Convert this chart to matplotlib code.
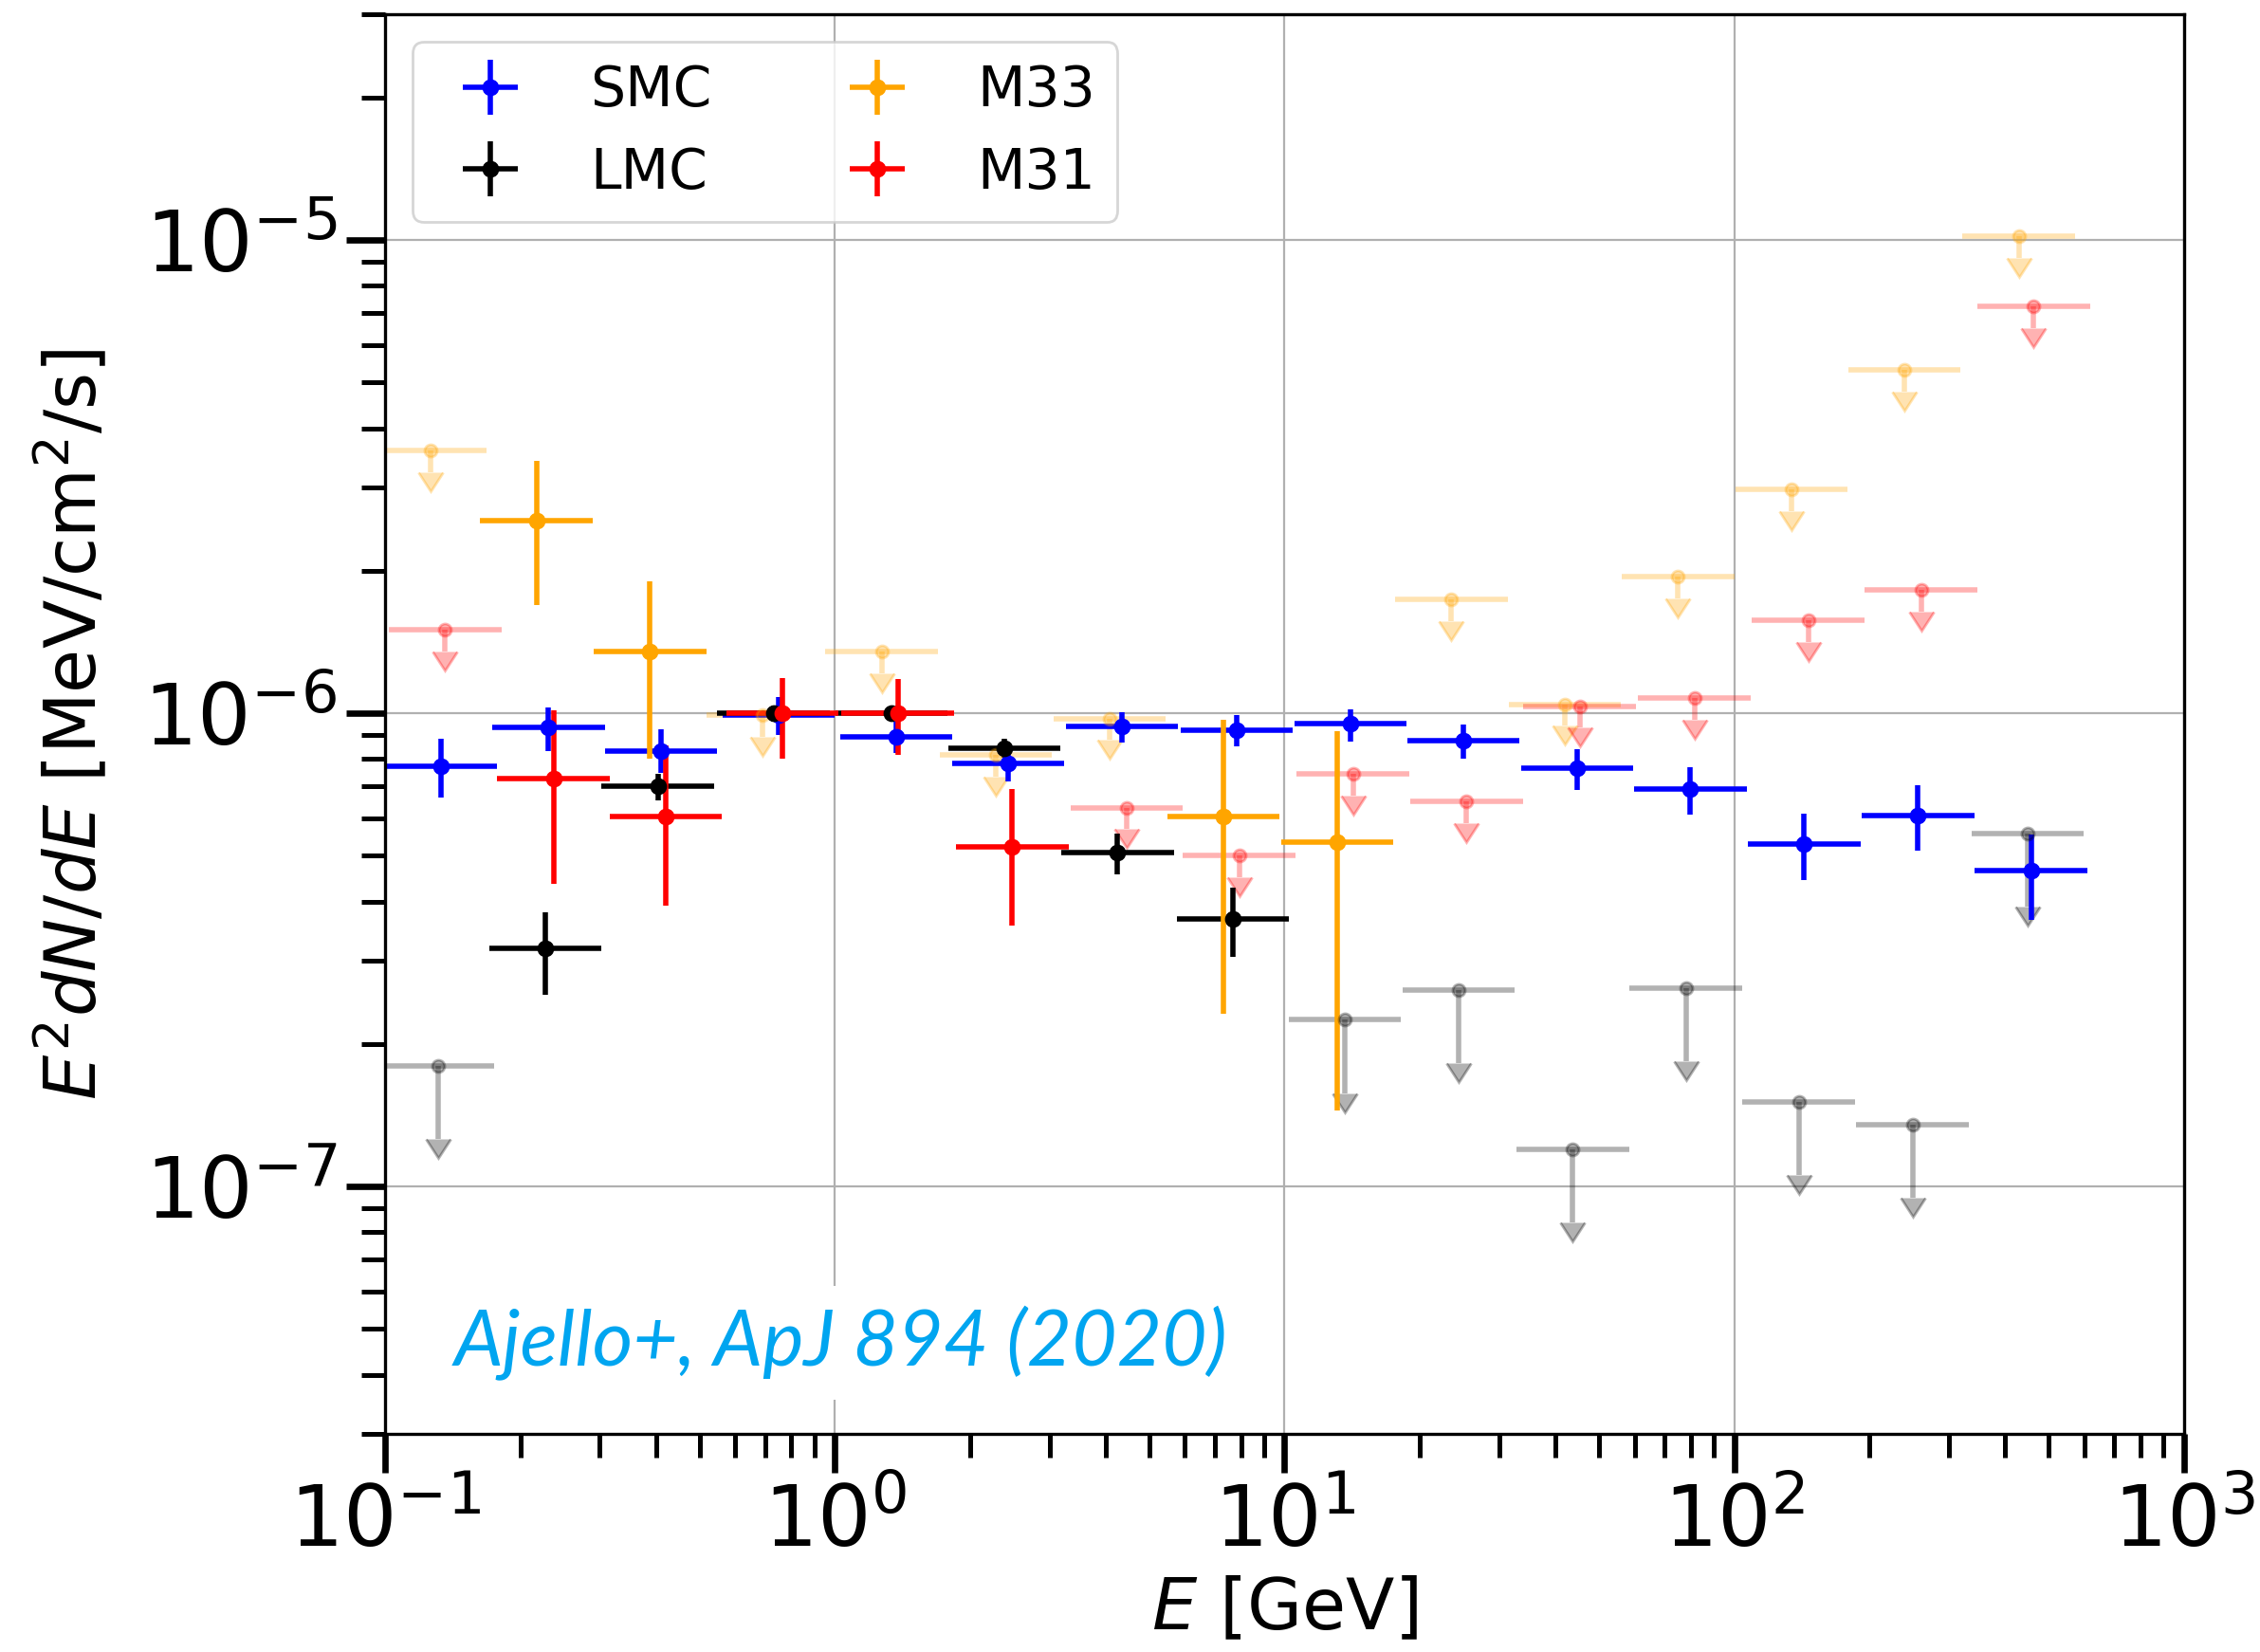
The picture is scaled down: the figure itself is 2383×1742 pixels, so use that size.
import numpy as np
import matplotlib
matplotlib.use("Agg")
import matplotlib.pyplot as plt

# --- data (E in GeV, E^2 dN/dE in MeV/cm^2/s) ---

# SMC, all bins detected
smc_e = [0.133, 0.231, 0.411, 0.750, 1.37, 2.43, 4.35, 7.83, 14.0, 25.0, 44.7, 79.8, 143, 256, 457]
smc_f = [7.74e-7, 9.33e-7, 8.32e-7, 9.93e-7, 8.93e-7, 7.82e-7, 9.37e-7, 9.22e-7,
         9.51e-7, 8.77e-7, 7.64e-7, 6.92e-7, 5.29e-7, 6.08e-7, 4.66e-7]
smc_hi = [8.85e-7, 1.028e-6, 9.25e-7, 1.084e-6, 9.58e-7, 8.54e-7, 1.005e-6, 9.93e-7,
          1.019e-6, 9.48e-7, 8.41e-7, 7.69e-7, 6.14e-7, 7.05e-7, 5.55e-7]
smc_lo = [6.65e-7, 8.32e-7, 7.48e-7, 9.00e-7, 8.24e-7, 7.18e-7, 8.69e-7, 8.51e-7,
          8.73e-7, 8.00e-7, 6.89e-7, 6.11e-7, 4.44e-7, 5.12e-7, 3.66e-7]

# LMC
lmc_e = [0.227, 0.404, 0.731, 1.337, 2.38, 4.25, 7.67]
lmc_f = [3.18e-7, 7.01e-7, 1.0e-6, 1.0e-6, 8.42e-7, 5.07e-7, 3.68e-7]
lmc_hi = [3.79e-7, 7.44e-7, 1.04e-6, 1.03e-6, 8.85e-7, 5.58e-7, 4.29e-7]
lmc_lo = [2.54e-7, 6.53e-7, 9.6e-7, 9.7e-7, 8.04e-7, 4.56e-7, 3.06e-7]
lmc_ul_e = [0.131, 13.6, 24.4, 43.7, 78.0, 139, 249, 449]
lmc_ul_f = [1.80e-7, 2.25e-7, 2.60e-7, 1.20e-7, 2.63e-7, 1.51e-7, 1.35e-7, 5.58e-7]

# M33
m33_e = [0.217, 0.388, 7.31, 13.1]
m33_f = [2.55e-6, 1.35e-6, 6.04e-7, 5.33e-7]
m33_hi = [3.42e-6, 1.90e-6, 9.69e-7, 9.15e-7]
m33_lo = [1.69e-6, 8.03e-7, 2.32e-7, 1.45e-7]
m33_ul_e = [0.126, 0.69, 1.27, 2.28, 4.08, 23.5, 42.0, 75.0, 134, 239, 429]
m33_ul_f = [3.59e-6, 9.9e-7, 1.35e-6, 8.17e-7, 9.75e-7, 1.74e-6, 1.045e-6,
            1.94e-6, 2.97e-6, 5.31e-6, 1.02e-5]

# M31
m31_e = [0.237, 0.421, 0.764, 1.38, 2.48]
m31_f = [7.28e-7, 6.05e-7, 1.0e-6, 1.0e-6, 5.23e-7]
m31_hi = [1.016e-6, 8.54e-7, 1.185e-6, 1.18e-6, 6.92e-7]
m31_lo = [4.36e-7, 3.93e-7, 8.03e-7, 8.17e-7, 3.56e-7]
m31_ul_e = [0.136, 4.46, 7.93, 14.2, 25.4, 45.3, 81.5, 146, 260, 463]
m31_ul_f = [1.50e-6, 6.32e-7, 5.0e-7, 7.45e-7, 6.52e-7, 1.035e-6, 1.075e-6,
            1.57e-6, 1.82e-6, 7.23e-6]

HALF_BIN_DEX = 0.125   # energy bins are ~0.25 dex wide


def xerr_of(e):
    e = np.asarray(e)
    return [e - e * 10 ** -HALF_BIN_DEX, e * 10 ** HALF_BIN_DEX - e]


def detections(ax, e, f, lo, hi, color, label):
    f = np.asarray(f)
    yerr = [f - np.asarray(lo), np.asarray(hi) - f]
    ax.errorbar(e, f, xerr=xerr_of(e), yerr=yerr, fmt="o", color=color,
                ms=5.4, elinewidth=2.0, capsize=0, label=label)


def upper_limits(ax, e, f, color, frac):
    f = np.asarray(f)
    ax.errorbar(e, f, xerr=xerr_of(e), fmt="o", color=color, alpha=0.3,
                ms=4.7, elinewidth=2.0, capsize=0)
    # arrow: line down from the limit plus a caret at its end
    cont = ax.errorbar(e, f, yerr=f * frac, uplims=True, fmt="none",
                       color=color, alpha=0.3, elinewidth=2.0, capsize=0)
    for cl in cont[1]:
        cl.set_markersize(9.4)
        cl.set_color(color)
        cl.set_markerfacecolor(color)
        cl.set_markeredgecolor(color)


fig = plt.figure(figsize=(2383 / 200, 1742 / 200), dpi=200)
ax = fig.add_axes([0.1704, 0.1320, 0.7960, 0.8594])
ax.set_xscale("log")
ax.set_yscale("log")

upper_limits(ax, lmc_ul_e, lmc_ul_f, "black", 0.30)
upper_limits(ax, m33_ul_e, m33_ul_f, "orange", 0.10)
upper_limits(ax, m31_ul_e, m31_ul_f, "red", 0.10)

detections(ax, smc_e, smc_f, smc_lo, smc_hi, "blue", "SMC")
detections(ax, lmc_e, lmc_f, lmc_lo, lmc_hi, "black", "LMC")
detections(ax, m33_e, m33_f, m33_lo, m33_hi, "orange", "M33")
detections(ax, m31_e, m31_f, m31_lo, m31_hi, "red", "M31")

ax.set_xlim(0.1, 1000)
ax.set_ylim(3e-8, 3e-5)
ax.grid(True, which="major", color="#b0b0b0", lw=0.8)

for sp in ax.spines.values():
    sp.set_linewidth(1.2)
ax.tick_params(which="major", length=14.8, width=2.4, labelsize=32)
ax.tick_params(which="minor", length=9, width=1.8)

ax.set_xlabel(r"$E$ [GeV]", fontsize=27)
ax.set_ylabel(r"$E^2dN/dE$ [MeV/cm$^2$/s]", fontsize=27, labelpad=12)

ax.legend(loc="upper left", ncol=2, fontsize=21)

ax.text(0.0385, 0.048, "Ajello+, ApJ 894 (2020)", transform=ax.transAxes,
        ha="left", va="baseline", fontsize=29.5, color="#00a5f0",
        family="Lato", style="italic",
        bbox=dict(boxstyle="square,pad=0.25", fc="white", ec="none"))

fig.savefig("out.png", dpi=200)
